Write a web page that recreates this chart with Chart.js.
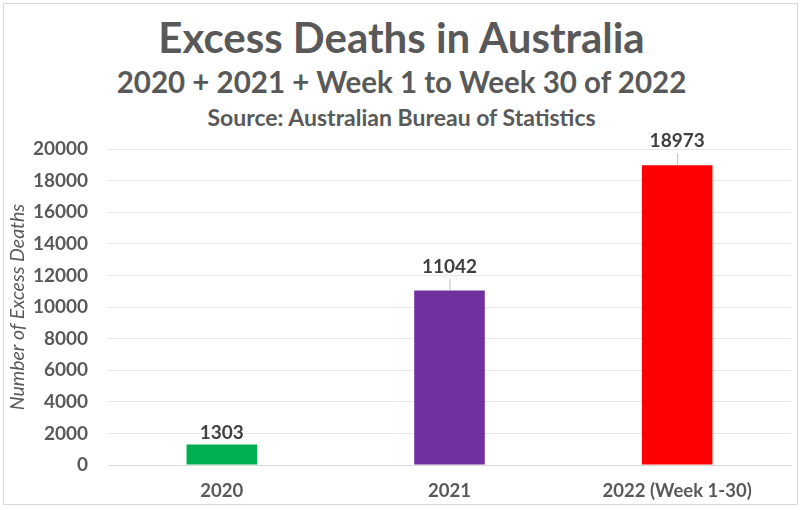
<!DOCTYPE html>
<html>
<head>
<meta charset="utf-8">
<script src="https://cdn.jsdelivr.net/npm/chart.js@4"></script>
<style>
  html, body { margin: 0; padding: 0; background: #fff; }
  #wrap { position: relative; width: 803px; height: 510px; overflow: hidden; }
  #frame { position: absolute; left: 3px; top: 3px; width: 795px; height: 502px; border: 1px solid #d9d9d9; box-sizing: border-box; }
  .h { position: absolute; left: 0; width: 803px; text-align: center; color: #595959; font-family: Lato, "Open Sans", sans-serif; font-weight: bold; white-space: nowrap; }
  #t1 { top: 12px; font-size: 42px; line-height: 50px; }
  #t2 { top: 64px; font-size: 29.5px; line-height: 36px; }
  #t3 { top: 104px; font-size: 23px; line-height: 26px; }
  canvas { position: absolute; left: 0; top: 0; }
</style>
</head>
<body>
<div id="wrap">
  <div id="frame"></div>
  <div class="h" id="t1">Excess Deaths in Australia</div>
  <div class="h" id="t2">2020 + 2021 + Week 1 to Week 30 of 2022</div>
  <div class="h" id="t3">Source: Australian Bureau of Statistics</div>
  <canvas id="c" width="803" height="510"></canvas>
</div>
<script>
const categories = ["2020", "2021", "2022 (Week 1-30)"];
const excessDeaths = [1303, 11042, 18973];
const barColors = ["#00b050", "#7030a0", "#ff0000"];
const yTicks = [0, 2000, 4000, 6000, 8000, 10000, 12000, 14000, 16000, 18000, 20000];

const FONT = 'Lato, "Open Sans", sans-serif';

const labelPlugin = {
  id: 'barLabels',
  afterDatasetsDraw(chart, args, opts) {
    const ctx = chart.ctx;
    const meta = chart.getDatasetMeta(0);
    ctx.save();
    ctx.font = 'bold 19px ' + FONT;
    ctx.fillStyle = '#404040';
    ctx.textAlign = 'center';
    ctx.textBaseline = 'middle';
    meta.data.forEach((bar, i) => {
      const off = opts.offsets[i];
      const y = bar.y - off;
      ctx.fillText(String(excessDeaths[i]), bar.x, y);
      if (off > 16) {
        ctx.strokeStyle = '#bfbfbf';
        ctx.lineWidth = 1;
        ctx.beginPath();
        ctx.moveTo(bar.x + 0.5, y + 12);
        ctx.lineTo(bar.x + 0.5, bar.y);
        ctx.stroke();
      }
    });
    ctx.restore();
  }
};

new Chart(document.getElementById('c'), {
  type: 'bar',
  data: {
    labels: categories,
    datasets: [{
      data: excessDeaths,
      backgroundColor: barColors,
      borderWidth: 0,
      categoryPercentage: 1,
      barPercentage: 0.31
    }]
  },
  options: {
    responsive: false,
    animation: false,
    devicePixelRatio: 1,
    layout: { padding: { top: 149, right: 12, left: 6, bottom: 0 } },
    plugins: {
      legend: { display: false },
      tooltip: { enabled: false },
      barLabels: { offsets: [12, 24, 24] }
    },
    scales: {
      x: {
        afterFit(s) { s.height = 45; },
        grid: { display: false, drawTicks: false },
        border: { display: true, color: '#d9d9d9', width: 1 },
        ticks: {
          padding: 15,
          color: '#595959',
          font: { family: FONT, size: 18.5, weight: 'bold' }
        }
      },
      y: {
        min: 0,
        max: 20000,
        afterFit(s) { s.width = 102; },
        afterBuildTicks(s) { s.ticks = yTicks.map(v => ({ value: v })); },
        grid: { color: '#e6e6e6', lineWidth: 1, drawTicks: false },
        border: { display: false },
        title: {
          display: true,
          text: 'Number of Excess Deaths',
          color: '#595959',
          padding: { top: 0, bottom: 2 },
          font: { family: FONT, size: 19.5, style: 'italic' }
        },
        ticks: {
          padding: 20,
          color: '#595959',
          callback: v => String(v),
          font: { family: FONT, size: 19, weight: 'bold' }
        }
      }
    }
  },
  plugins: [labelPlugin]
});
</script>
</body>
</html>
